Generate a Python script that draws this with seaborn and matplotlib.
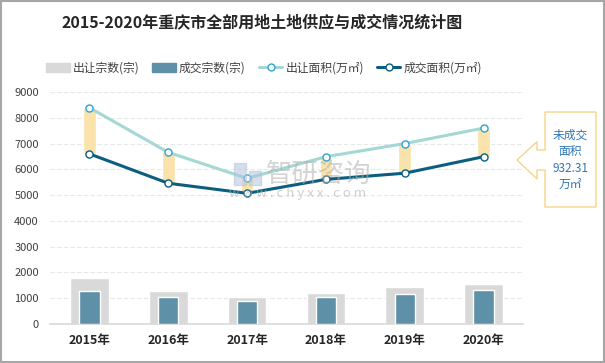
import numpy as np
import pandas as pd
import matplotlib.pyplot as plt
import seaborn as sns
from matplotlib.patches import Patch, Polygon, Rectangle
from matplotlib.lines import Line2D

years = ["2015年", "2016年", "2017年", "2018年", "2019年", "2020年"]
supply_count = [1790, 1290, 1060, 1200, 1440, 1560]      # 出让宗数(宗)
deal_count = [1290, 1050, 890, 1050, 1160, 1330]         # 成交宗数(宗)
supply_area = [8390, 6660, 5650, 6490, 7000, 7600]       # 出让面积(万㎡)
deal_area = [6600, 5460, 5070, 5610, 5850, 6490]         # 成交面积(万㎡)
note_text = "未成交\n面积\n932.31\n万㎡"

df = pd.DataFrame({"year": years, "supply_count": supply_count, "deal_count": deal_count,
                   "supply_area": supply_area, "deal_area": deal_area})
df["pos"] = np.arange(len(df))

sns.set_theme(style="white")
plt.rcParams["font.family"] = ["Noto Sans CJK SC", "DejaVu Sans"]

fig = plt.figure(figsize=(6.05, 3.63), dpi=100)
ax = fig.add_axes([50/605, 1-324/363, 473/605, 232/363])

# bars
sns.barplot(data=df, x="year", y="supply_count", color="#D9D9D9", width=0.49,
            saturation=1, ax=ax, zorder=2)
sns.barplot(data=df, x="year", y="deal_count", color="#5E90A8", width=0.26,
            saturation=1, ax=ax, zorder=3)

# floating gap bars between the two area lines
ax.bar(df["pos"], df["supply_area"] - df["deal_area"], bottom=df["deal_area"],
       width=0.16, color="#F9E3AA", zorder=3)

sns.lineplot(data=df, x="pos", y="supply_area", color="#A3D8D4", lw=2.2, ax=ax, zorder=4)
sns.lineplot(data=df, x="pos", y="deal_area", color="#0B5E80", lw=2.2, ax=ax, zorder=4)
ax.scatter(df["pos"], df["supply_area"], s=26, facecolor="white", edgecolor="#2FA3D8", lw=1, zorder=5)
ax.scatter(df["pos"], df["deal_area"], s=26, facecolor="white", edgecolor="#0B5E80", lw=1, zorder=5)

ax.set_xlim(-0.5, 5.5)
ax.set_ylim(0, 9000)
ax.set_yticks(range(0, 9001, 1000))
ax.set_xlabel("")
ax.set_ylabel("")
ax.set_xticks(range(len(years)))
ax.set_xticklabels(years, fontsize=9, fontweight="bold", color="#262626")
ax.tick_params(axis="y", labelsize=8, labelcolor="#404040", length=0, pad=8)
ax.tick_params(axis="x", length=0, pad=7)
ax.grid(axis="y", color="#E8E8E8", ls=(0, (4, 2)), lw=0.8, zorder=0)
ax.set_axisbelow(True)
for s in ["top", "right", "left"]:
    ax.spines[s].set_visible(False)
ax.spines["bottom"].set_color("#D9D9D9")
ax.spines["bottom"].set_linewidth(1.2)

# watermark
fig.patches.append(Rectangle((234/605, 1-185/363), 12/605, 22/363, transform=fig.transFigure,
                             color="#B4C4DC", alpha=0.55, zorder=8))
fig.patches.append(Rectangle((249/605, 1-185/363), 12/605, 14/363, transform=fig.transFigure,
                             color="#B4C4DC", alpha=0.55, zorder=8))
fig.text(319/605, 1-174/363, "智研咨询", fontsize=19, color="#B0B0B0", alpha=0.55,
         ha="center", va="center", zorder=8)
fig.text(298/605, 1-194/363, "w w w . c h y x x . c o m", fontsize=9.5, color="#B0B0B0",
         alpha=0.6, ha="center", va="center", zorder=8)

# title
fig.text(262/605, 1-22/363, "2015-2020年重庆市全部用地土地供应与成交情况统计图",
         fontsize=11.5, fontweight="bold", color="#262626", ha="center", va="center")

# legend
handles = [Patch(color="#D9D9D9"), Patch(color="#5E90A8"),
           Line2D([], [], color="#A3D8D4", lw=2.2, marker="o", ms=5, mfc="white", mec="#2FA3D8"),
           Line2D([], [], color="#0B5E80", lw=2.2, marker="o", ms=5, mfc="white", mec="#0B5E80")]
labels = ["出让宗数(宗)", "成交宗数(宗)", "出让面积(万㎡)", "成交面积(万㎡)"]
fig.legend(handles, labels, loc="center", bbox_to_anchor=(264/605, 1-68/363), ncol=4,
           frameon=False, fontsize=8.5, handlelength=2.0, handleheight=0.7,
           columnspacing=1.1, handletextpad=0.25, labelcolor="#404040")

# callout
pts = [(545, 112), (596, 112), (596, 207), (545, 207), (545, 170), (537, 170),
       (537, 179), (517, 160), (537, 141.7), (537, 150), (545, 150)]
pts = [(x/605, 1-y/363) for x, y in pts]
fig.patches.append(Polygon(pts, closed=True, transform=fig.transFigure, facecolor="white",
                           edgecolor="#F5D58A", lw=1, zorder=6))
fig.text(570.5/605, 1-160/363, note_text, fontsize=8.5, color="#2E75B6", ha="center",
         va="center", linespacing=1.35, zorder=7)

# outer frame
fig.patches.append(Rectangle((0.002, 0.003), 0.996, 0.994, transform=fig.transFigure,
                             fill=False, edgecolor="#A6A6A6", lw=1.5))

fig.savefig("out.png", dpi=100)
